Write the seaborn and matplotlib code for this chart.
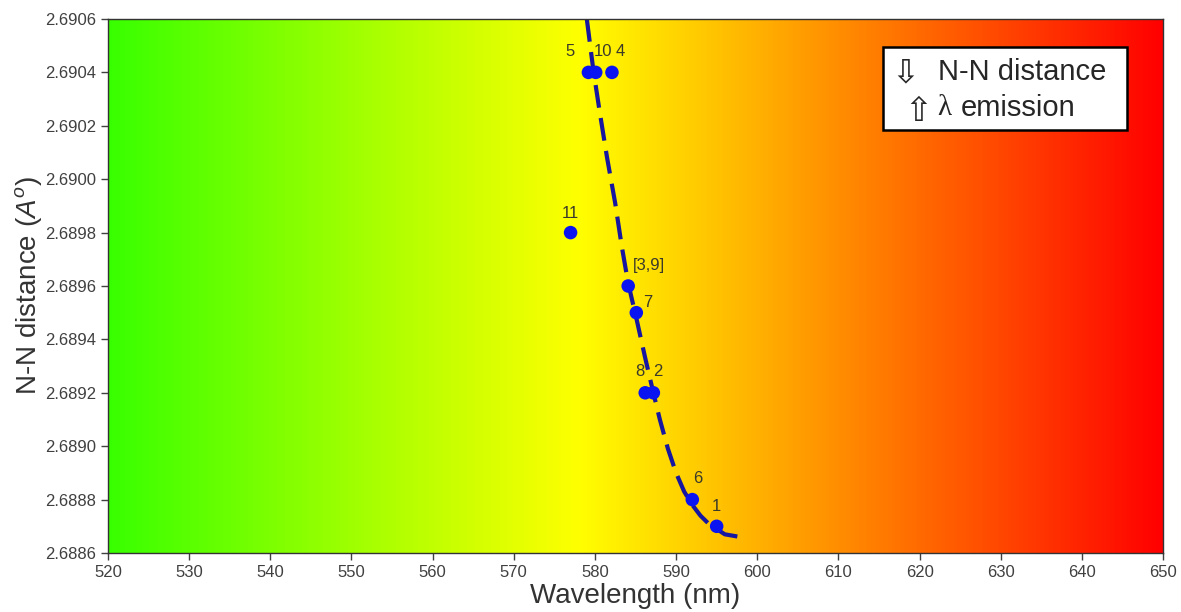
import numpy as np
import matplotlib
matplotlib.use('Agg')
import matplotlib.pyplot as plt
import seaborn as sns
from matplotlib.colors import LinearSegmentedColormap
from matplotlib.patches import Rectangle

# Compostos (rótulos), comprimento de onda de emissão e distância N-N
rotulos = ['1', '2', '[3,9]', '4', '5', '6', '7', '8', '10', '11']
comprimento_onda = [595.0, 587.2, 584.1, 582.1, 579.2, 592.0, 585.1, 586.2, 580.1, 577.0]
distancia_nn = [2.6887, 2.6892, 2.6896, 2.6904, 2.6904, 2.6888, 2.6895, 2.6892, 2.6904, 2.6898]

# Deslocamento dos rótulos (pontos tipográficos)
desloc_rotulos = [(0, 14), (3, 15), (15, 15), (6, 15), (-13, 15), (4, 15), (8, 7), (-4, 15), (5, 15), (0, 14)]

# Curva de ajuste (tracejada)
curva_x = [579.0, 579.8, 580.6, 581.5, 582.5, 583.3, 584.1, 585.1, 586.2, 587.2, 588.0, 589.0,
           590.0, 591.0, 592.0, 593.0, 594.0, 595.0, 596.0, 597.9]
curva_y = [2.69060, 2.69041, 2.69025, 2.69008, 2.68991, 2.68975, 2.68961, 2.68948, 2.68933, 2.68920,
           2.68910, 2.68899, 2.68890, 2.68883, 2.68878, 2.68874, 2.68871, 2.68869, 2.68867, 2.68866]

xticks = list(range(520, 651, 10))
yticks = [2.6886, 2.6888, 2.6890, 2.6892, 2.6894, 2.6896, 2.6898, 2.6900, 2.6902, 2.6904, 2.6906]

sns.set_style('ticks')
plt.rcParams['font.family'] = ['Liberation Sans', 'DejaVu Sans']
plt.rcParams['mathtext.fontset'] = 'custom'
plt.rcParams['mathtext.rm'] = 'Liberation Sans'
plt.rcParams['mathtext.it'] = 'Liberation Sans:italic'

fig = plt.figure(figsize=(11.81, 6.12), dpi=100)
ax = fig.add_axes([0.0914, 0.0964, 0.8934, 0.8726])

# Fundo em gradiente (verde -> amarelo -> vermelho)
cmap = LinearSegmentedColormap.from_list(
    'espectro', [(0.0, (0.22, 1.0, 0.0)), ((578 - 520) / 130, (1.0, 1.0, 0.0)), (1.0, (1.0, 0.0, 0.0))])
grad = np.linspace(0, 1, 512).reshape(1, -1)
ax.imshow(grad, cmap=cmap, aspect='auto', extent=[520, 650, 2.6886, 2.6906], zorder=0)

sns.lineplot(x=curva_x, y=curva_y, sort=False, ax=ax, color='#1616a0', lw=3,
             dashes=False, zorder=2)
ax.lines[-1].set_dashes([5.5, 2.5])
ax.lines[-1].set_dash_capstyle('butt')
ax.lines[-1].set_solid_joinstyle('round')

sns.scatterplot(x=comprimento_onda, y=distancia_nn, ax=ax, color='#0a14f0', s=95,
                edgecolor='none', zorder=3)

for r, x, y, d in zip(rotulos, comprimento_onda, distancia_nn, desloc_rotulos):
    ax.annotate(r, (x, y), xytext=d, textcoords='offset points', ha='center', va='center',
                fontsize=12, color='#3a3a2a', zorder=4)

ax.set_xlim(520, 650)
ax.set_ylim(2.6886, 2.6906)
ax.set_xticks(xticks)
ax.set_yticks(yticks)
ax.set_yticklabels([f'{v:.4f}' for v in yticks])
ax.tick_params(axis='both', labelsize=12, labelcolor='#404040', color='#404040', length=5, width=1)
for s in ax.spines.values():
    s.set_color('#333333')
    s.set_linewidth(1)

ax.set_xlabel('Wavelength (nm)', fontsize=20, color='#333333', labelpad=2)
ax.set_ylabel('N-N distance ($A^o$)', fontsize=20, color='#333333', labelpad=1)

# Caixa de legenda
ax.add_patch(Rectangle((0.7343, 0.792), 0.2313, 0.155, transform=ax.transAxes,
                       facecolor='white', edgecolor='black', lw=1.8, zorder=5))
ax.text(0.7555, 0.899, '\u21e9', transform=ax.transAxes, fontsize=24, ha='center', va='center',
        family='DejaVu Sans', zorder=6)
ax.text(0.7867, 0.901, 'N-N distance', transform=ax.transAxes, fontsize=21, ha='left', va='center',
        zorder=6)
ax.text(0.7685, 0.826, '\u21e7', transform=ax.transAxes, fontsize=24, ha='center', va='center',
        family='DejaVu Sans', zorder=6)
ax.text(0.7925, 0.833, '\u03bb', transform=ax.transAxes, fontsize=21, ha='center', va='center',
        family='Liberation Serif', zorder=6)
ax.text(0.8085, 0.833, 'emission', transform=ax.transAxes, fontsize=21, ha='left', va='center',
        zorder=6)

fig.savefig('out.png', dpi=100)
